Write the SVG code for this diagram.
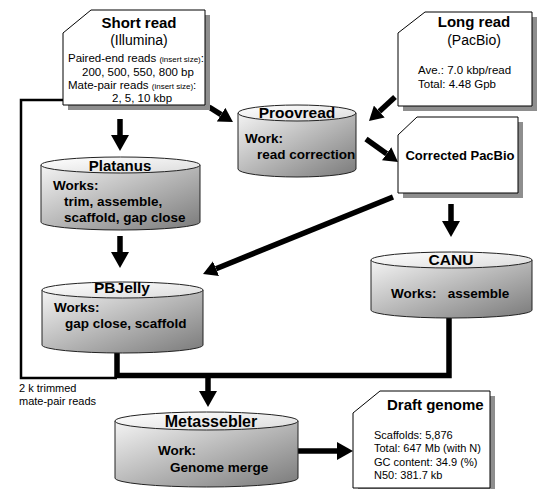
<svg xmlns="http://www.w3.org/2000/svg" width="539" height="489" viewBox="0 0 539 489">
<defs>
<linearGradient id="body" x1="0" y1="0" x2="1" y2="1">
<stop offset="0" stop-color="#f4f4f4"/>
<stop offset="1" stop-color="#7a7a7a"/>
</linearGradient>
<linearGradient id="lid" x1="0" y1="0" x2="1" y2="1">
<stop offset="0" stop-color="#ffffff"/>
<stop offset="1" stop-color="#dcdcdc"/>
</linearGradient>
<marker id="ah" markerUnits="userSpaceOnUse" markerWidth="16" markerHeight="18" refX="0" refY="9" orient="auto" viewBox="0 0 16 18">
<path d="M0,0 L16,9 L0,18 Z" fill="#000"/>
</marker>
<marker id="ahs" markerUnits="userSpaceOnUse" markerWidth="14" markerHeight="16" refX="0" refY="8" orient="auto" viewBox="0 0 14 16">
<path d="M0,0 L14,8 L0,16 Z" fill="#000"/>
</marker>
</defs>
<style>
text{font-family:"Liberation Sans",Arial,sans-serif;fill:#000}
.doc{fill:#fff;stroke:#000;stroke-width:1}
.sh{fill:#8e8e8e}
.cyl{fill:url(#body);stroke:#222;stroke-width:1}
.lid{fill:url(#lid);stroke:#222;stroke-width:1}
.t{font-weight:bold;font-size:15.5px;text-anchor:middle}
.dt{font-weight:bold;font-size:15px}
.sub{font-size:14px;text-anchor:middle}
.b{font-weight:bold;font-size:13.5px}
.s{font-size:11.5px}
.xs{font-size:8px}
.th{fill:none;stroke:#000;stroke-width:5.5}
.tn{fill:none;stroke:#000;stroke-width:2.5}
</style>

<g id="connectors">
<path class="tn" d="M63,100 H21 V378 H117"/>
<path class="th" d="M117,353 V375.5 H449 V318"/>
<line class="th" x1="120" y1="119" x2="120" y2="135" marker-end="url(#ah)"/>
<line class="th" x1="120" y1="236" x2="120" y2="252" marker-end="url(#ah)"/>
<line class="th" x1="451" y1="204" x2="451" y2="221" marker-end="url(#ah)"/>
<line class="th" x1="208" y1="376" x2="208" y2="391" marker-end="url(#ah)"/>
<line class="th" x1="298" y1="451" x2="337" y2="451" marker-end="url(#ah)"/>
<line class="th" x1="209" y1="107" x2="221.1" y2="114.6" stroke-width="5" marker-end="url(#ahs)"/>
<line class="th" x1="395" y1="97" x2="379.3" y2="111.5" stroke-width="5" marker-end="url(#ahs)"/>
<line class="th" x1="366" y1="139" x2="386.6" y2="153.8" stroke-width="5" marker-end="url(#ahs)"/>
<line class="th" x1="393" y1="197" x2="216" y2="268.7" stroke-width="5" marker-end="url(#ahs)"/>
</g>

<g id="short-read">
<polygon class="sh" points="96,15 210,15 210,110 68,110 68,38"/>
<polygon class="doc" points="91,10 205,10 205,105 63,105 63,33"/>
<text class="t" x="139" y="28" style="font-size:15px">Short read</text>
<text class="sub" x="139" y="45">(Illumina)</text>
<text class="s" x="68" y="62">Paired-end reads <tspan class="xs">(insert size)</tspan>:</text>
<text class="s" x="82" y="76">200, 500, 550, 800 bp</text>
<text class="s" x="68" y="89">Mate-pair reads <tspan class="xs">(insert size)</tspan>:</text>
<text class="s" x="112" y="102">2, 5, 10 kbp</text>
</g>

<g id="long-read">
<polygon class="sh" points="430,17 537,17 537,111 403,111 403,38"/>
<polygon class="doc" points="425,12 532,12 532,106 398,106 398,33"/>
<text class="t" x="474" y="27" style="font-size:15px">Long read</text>
<text class="sub" x="474" y="45">(PacBio)</text>
<text class="s" x="418" y="74">Ave.: 7.0 kbp/read</text>
<text class="s" x="418" y="88">Total: 4.48 Gpb</text>
</g>

<g id="proovread">
<path class="cyl" d="M238,113 V169 A59,8 0 0 0 356,169 V113 Z"/>
<ellipse class="lid" cx="297" cy="113" rx="59" ry="8"/>
<text class="t" x="297" y="118">Proovread</text>
<text class="b" x="245" y="143">Work:</text>
<text class="b" x="257" y="159">read correction</text>
</g>

<g id="corrected-pacbio">
<polygon class="sh" points="422,122 523,122 523,198 403,198 403,140"/>
<polygon class="doc" points="417,117 518,117 518,193 398,193 398,135"/>
<text class="b" x="460" y="160" style="font-size:13px;text-anchor:middle">Corrected PacBio</text>
</g>

<g id="platanus">
<path class="cyl" d="M41,165 V222 A79.5,8 0 0 0 200,222 V165 Z"/>
<ellipse class="lid" cx="120.5" cy="165" rx="79.5" ry="8"/>
<text class="t" x="120" y="171" style="font-size:15px">Platanus</text>
<text class="b" x="53" y="190">Works:</text>
<text class="b" x="64" y="206">trim, assemble,</text>
<text class="b" x="64" y="222">scaffold, gap close</text>
</g>

<g id="pbjelly">
<path class="cyl" d="M42,290 V345 A80.5,8 0 0 0 203,345 V290 Z"/>
<ellipse class="lid" cx="122.5" cy="290" rx="80.5" ry="8"/>
<text class="t" x="122" y="293">PBJelly</text>
<text class="b" x="54" y="312">Works:</text>
<text class="b" x="65" y="328">gap close, scaffold</text>
</g>

<g id="canu">
<path class="cyl" d="M371,260 V310 A80.5,8 0 0 0 532,310 V260 Z"/>
<ellipse class="lid" cx="451.5" cy="260" rx="80.5" ry="8"/>
<text class="t" x="451" y="265">CANU</text>
<text class="b" x="391" y="298" xml:space="preserve">Works:   assemble</text>
</g>

<g id="metassebler">
<path class="cyl" d="M115,421 V478 A91.5,9 0 0 0 298,478 V421 Z"/>
<ellipse class="lid" cx="206.5" cy="421" rx="91.5" ry="9"/>
<text class="t" x="211" y="427" style="font-size:16px">Metassebler</text>
<text class="b" x="158" y="455">Work:</text>
<text class="b" x="170" y="472">Genome merge</text>
</g>

<g id="draft-genome">
<polygon class="sh" points="385,396 495,396 495,493 358,493 358,418"/>
<polygon class="doc" points="380,391 490,391 490,488 353,488 353,413"/>
<text class="dt" x="387" y="410">Draft genome</text>
<text class="s" x="374" y="439" style="font-size:11px">Scaffolds: 5,876</text>
<text class="s" x="374" y="452" style="font-size:11px">Total: 647 Mb (with N)</text>
<text class="s" x="374" y="466" style="font-size:11px">GC content: 34.9 (%)</text>
<text class="s" x="374" y="479" style="font-size:11px">N50: 381.7 kb</text>
</g>

<g id="label-trimmed">
<text class="s" x="19" y="392" style="font-size:11px">2 k trimmed</text>
<text class="s" x="19" y="405" style="font-size:11px">mate-pair reads</text>
</g>
</svg>
